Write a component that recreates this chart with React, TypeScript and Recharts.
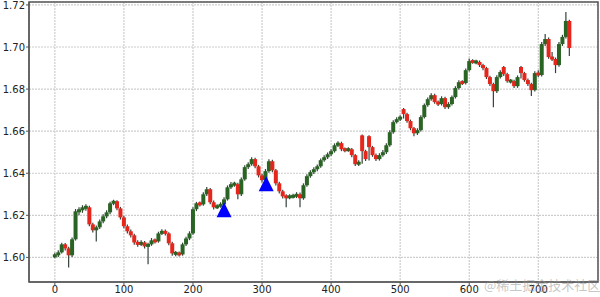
import { ComposedChart, Bar, Scatter, XAxis, YAxis, CartesianGrid, ReferenceArea } from 'recharts';

// one candle every 5 bars
const step = 5;

const opens = [
  1.6005, 1.6010, 1.6024, 1.6062, 1.6043, 1.6010, 1.6086, 1.6219, 1.6224, 1.6238,
  1.6238, 1.6157, 1.6129, 1.6143, 1.6171, 1.6195, 1.6214, 1.6257, 1.6267, 1.6233,
  1.6190, 1.6148, 1.6124, 1.6105, 1.6071, 1.6062, 1.6071, 1.6052, 1.6062, 1.6081,
  1.6076, 1.6114, 1.6124, 1.6114, 1.6067, 1.6019, 1.6019, 1.6014, 1.6062, 1.6090,
  1.6114, 1.6229, 1.6257, 1.6252, 1.6300, 1.6324, 1.6262, 1.6238, 1.6243, 1.6252,
  1.6276, 1.6333, 1.6348, 1.6348, 1.6300, 1.6371, 1.6429, 1.6443, 1.6467, 1.6433,
  1.6390, 1.6367, 1.6410, 1.6457, 1.6414, 1.6352, 1.6314, 1.6290, 1.6286, 1.6290,
  1.6290, 1.6300, 1.6281, 1.6343, 1.6386, 1.6405, 1.6419, 1.6433, 1.6462, 1.6476,
  1.6490, 1.6505, 1.6533, 1.6543, 1.6514, 1.6510, 1.6514, 1.6486, 1.6443, 1.6580,
  1.6505, 1.6576, 1.6524, 1.6486, 1.6467, 1.6486, 1.6500, 1.6533, 1.6595, 1.6643,
  1.6657, 1.6705, 1.6681, 1.6648, 1.6614, 1.6590, 1.6605, 1.6667, 1.6724, 1.6752,
  1.6771, 1.6738, 1.6729, 1.6757, 1.6714, 1.6729, 1.6762, 1.6805, 1.6833, 1.6829,
  1.6890, 1.6933, 1.6929, 1.6929, 1.6914, 1.6900, 1.6857, 1.6824, 1.6790, 1.6857,
  1.6905, 1.6871, 1.6838, 1.6838, 1.6814, 1.6905, 1.6876, 1.6843, 1.6824, 1.6795,
  1.6876, 1.6867, 1.7014, 1.7038, 1.6952, 1.6943, 1.6914, 1.7014, 1.7048, 1.7124,
];

const highs = [
  1.6022, 1.6034, 1.6070, 1.6068, 1.6050, 1.6094, 1.6230, 1.6238, 1.6248, 1.6252,
  1.6245, 1.6165, 1.6152, 1.6180, 1.6205, 1.6224, 1.6265, 1.6274, 1.6272, 1.6240,
  1.6198, 1.6156, 1.6133, 1.6112, 1.6081, 1.6082, 1.6078, 1.6070, 1.6092, 1.6090,
  1.6122, 1.6134, 1.6132, 1.6120, 1.6074, 1.6030, 1.6028, 1.6070, 1.6098, 1.6124,
  1.6238, 1.6264, 1.6266, 1.6310, 1.6335, 1.6330, 1.6270, 1.6252, 1.6262, 1.6286,
  1.6342, 1.6358, 1.6360, 1.6355, 1.6380, 1.6438, 1.6452, 1.6476, 1.6474, 1.6440,
  1.6398, 1.6420, 1.6466, 1.6464, 1.6420, 1.6360, 1.6322, 1.6300, 1.6300, 1.6302,
  1.6310, 1.6308, 1.6352, 1.6395, 1.6414, 1.6428, 1.6442, 1.6470, 1.6485, 1.6498,
  1.6514, 1.6542, 1.6552, 1.6550, 1.6522, 1.6524, 1.6520, 1.6492, 1.6462, 1.6584,
  1.6512, 1.6580, 1.6530, 1.6494, 1.6495, 1.6510, 1.6542, 1.6604, 1.6652, 1.6666,
  1.6676, 1.6710, 1.6688, 1.6655, 1.6620, 1.6614, 1.6676, 1.6732, 1.6760, 1.6780,
  1.6778, 1.6746, 1.6766, 1.6764, 1.6738, 1.6770, 1.6814, 1.6842, 1.6842, 1.6898,
  1.6945, 1.6942, 1.6940, 1.6936, 1.6920, 1.6906, 1.6864, 1.6830, 1.6866, 1.6890,
  1.6910, 1.6878, 1.6848, 1.6845, 1.6865, 1.6910, 1.6882, 1.6850, 1.6830, 1.6885,
  1.6890, 1.7024, 1.7062, 1.7045, 1.6976, 1.6950, 1.7024, 1.7058, 1.7167, 1.7130,
];

const lows = [
  1.5996, 1.6002, 1.6018, 1.6033, 1.5952, 1.6002, 1.6080, 1.6200, 1.6212, 1.6222,
  1.6148, 1.6118, 1.6076, 1.6135, 1.6162, 1.6186, 1.6205, 1.6248, 1.6224, 1.6180,
  1.6138, 1.6114, 1.6095, 1.6060, 1.6050, 1.6054, 1.6042, 1.5967, 1.6055, 1.6066,
  1.6070, 1.6106, 1.6104, 1.6058, 1.6008, 1.6005, 1.6004, 1.6008, 1.6054, 1.6082,
  1.6108, 1.6220, 1.6242, 1.6245, 1.6292, 1.6252, 1.6228, 1.6230, 1.6236, 1.6245,
  1.6270, 1.6325, 1.6336, 1.6276, 1.6292, 1.6364, 1.6420, 1.6436, 1.6424, 1.6380,
  1.6356, 1.6360, 1.6402, 1.6405, 1.6342, 1.6304, 1.6280, 1.6238, 1.6276, 1.6280,
  1.6282, 1.6238, 1.6274, 1.6336, 1.6378, 1.6396, 1.6410, 1.6426, 1.6455, 1.6468,
  1.6482, 1.6498, 1.6525, 1.6505, 1.6500, 1.6502, 1.6476, 1.6434, 1.6435, 1.6445,
  1.6458, 1.6460, 1.6478, 1.6458, 1.6460, 1.6478, 1.6492, 1.6526, 1.6588, 1.6636,
  1.6648, 1.6660, 1.6640, 1.6605, 1.6576, 1.6582, 1.6598, 1.6660, 1.6716, 1.6744,
  1.6730, 1.6720, 1.6722, 1.6705, 1.6706, 1.6722, 1.6755, 1.6798, 1.6820, 1.6822,
  1.6884, 1.6920, 1.6918, 1.6905, 1.6890, 1.6848, 1.6815, 1.6714, 1.6782, 1.6850,
  1.6862, 1.6830, 1.6826, 1.6805, 1.6806, 1.6850, 1.6835, 1.6815, 1.6767, 1.6788,
  1.6858, 1.6860, 1.7005, 1.6944, 1.6934, 1.6876, 1.6906, 1.7005, 1.7040, 1.6957,
];

const closes = [
  1.6010, 1.6024, 1.6062, 1.6043, 1.6010, 1.6086, 1.6219, 1.6224, 1.6238, 1.6238,
  1.6157, 1.6129, 1.6143, 1.6171, 1.6195, 1.6214, 1.6257, 1.6267, 1.6233, 1.6190,
  1.6148, 1.6124, 1.6105, 1.6071, 1.6062, 1.6071, 1.6052, 1.6062, 1.6081, 1.6076,
  1.6114, 1.6124, 1.6114, 1.6067, 1.6019, 1.6019, 1.6014, 1.6062, 1.6090, 1.6114,
  1.6229, 1.6257, 1.6252, 1.6300, 1.6324, 1.6262, 1.6238, 1.6243, 1.6252, 1.6276,
  1.6333, 1.6348, 1.6348, 1.6300, 1.6371, 1.6429, 1.6443, 1.6467, 1.6433, 1.6390,
  1.6367, 1.6410, 1.6457, 1.6414, 1.6352, 1.6314, 1.6290, 1.6286, 1.6290, 1.6290,
  1.6300, 1.6281, 1.6343, 1.6386, 1.6405, 1.6419, 1.6433, 1.6462, 1.6476, 1.6490,
  1.6505, 1.6533, 1.6543, 1.6514, 1.6510, 1.6514, 1.6486, 1.6443, 1.6452, 1.6505,
  1.6467, 1.6524, 1.6486, 1.6467, 1.6486, 1.6500, 1.6533, 1.6595, 1.6643, 1.6657,
  1.6667, 1.6681, 1.6648, 1.6614, 1.6590, 1.6605, 1.6667, 1.6724, 1.6752, 1.6771,
  1.6738, 1.6729, 1.6757, 1.6714, 1.6729, 1.6762, 1.6805, 1.6833, 1.6829, 1.6890,
  1.6933, 1.6929, 1.6929, 1.6914, 1.6900, 1.6857, 1.6824, 1.6790, 1.6857, 1.6881,
  1.6871, 1.6838, 1.6838, 1.6814, 1.6857, 1.6876, 1.6843, 1.6824, 1.6795, 1.6876,
  1.6867, 1.7014, 1.7038, 1.6952, 1.6943, 1.6914, 1.7014, 1.7048, 1.7124, 1.6995,
];

// buy signals (blue triangles)
const signalX = [245, 306];
const signalY = [1.6226, 1.635];

const xTicks = [0, 100, 200, 300, 400, 500, 600, 700];
const yTicks = [1.6, 1.62, 1.64, 1.66, 1.68, 1.7, 1.72];

const xDomain = [-37.45, 786.45];
const yDomain = [1.5883, 1.7214];

const UP = '#2a6424';
const DOWN = '#e4261c';
const WICK = '#34423a';

const candles = closes.map((close, k) => ({
  x: k * step,
  open: opens[k],
  high: highs[k],
  low: lows[k],
  close,
}));

const signals = signalX.map((x, k) => ({ x, y: signalY[k] }));

function Candle(props: any) {
  const { x, y, width, height, payload } = props;
  if (!payload || height == null) return null;
  const { open, close, high, low } = payload;
  const top0 = height >= 0 ? y : y + height;
  const h = Math.abs(height);
  const span = high - low || 1;
  const toY = (v: number) => top0 + ((high - v) / span) * h;
  let bodyTop = toY(Math.max(open, close));
  let bodyBot = toY(Math.min(open, close));
  // dense bars in the original read as a thick band, keep a minimum body
  if (bodyBot - bodyTop < 3) {
    const mid = (bodyTop + bodyBot) / 2;
    bodyTop = mid - 1.5;
    bodyBot = mid + 1.5;
  }
  const cx = x + width / 2;
  return (
    <g>
      <line x1={cx} x2={cx} y1={top0} y2={top0 + h} stroke={WICK} strokeWidth={1.2} />
      <rect x={cx - 2} y={bodyTop} width={4} height={bodyBot - bodyTop} fill={close >= open ? UP : DOWN} />
    </g>
  );
}

function Triangle(props: any) {
  const { cx, cy } = props;
  if (cx == null || cy == null) return null;
  return <polygon points={`${cx},${cy - 7.5} ${cx - 7.5},${cy + 7.5} ${cx + 7.5},${cy + 7.5}`} fill="#0000ff" />;
}

export default function App() {
  return (
    <div style={{ position: 'relative', width: 600, height: 297, background: '#fff' }}>
      <style>{'body{margin:0}'}</style>
      <ComposedChart
        width={600}
        height={297}
        data={candles}
        margin={{ top: 2, right: 2, bottom: 0, left: 0 }}
      >
        <CartesianGrid stroke="#cdcdcd" strokeWidth={1.2} strokeDasharray="2 1" />
        <XAxis
          dataKey="x"
          type="number"
          domain={xDomain}
          ticks={xTicks}
          allowDataOverflow
          height={15}
          tickSize={3}
          tickMargin={1}
          interval={0}
          stroke="#555"
          tick={{ fontSize: 10, fill: '#222', fontFamily: 'DejaVu Sans' }}
        />
        <YAxis
          type="number"
          domain={yDomain}
          ticks={yTicks}
          allowDataOverflow
          width={29}
          tickSize={3}
          tickMargin={1}
          interval={0}
          stroke="#555"
          tickFormatter={(v: number) => v.toFixed(2)}
          tick={{ fontSize: 10, fill: '#222', fontFamily: 'DejaVu Sans' }}
        />
        <ReferenceArea
          x1={xDomain[0]}
          x2={xDomain[1]}
          y1={yDomain[0]}
          y2={yDomain[1]}
          fill="none"
          stroke="#555"
          strokeWidth={1.5}
          ifOverflow="visible"
        />
        <Bar
          dataKey={(d: any) => [d.low, d.high]}
          barSize={4}
          shape={<Candle />}
          isAnimationActive={false}
        />
        <Scatter data={signals} dataKey="y" shape={<Triangle />} isAnimationActive={false} />
      </ComposedChart>
      <div
        style={{
          position: 'absolute',
          left: 484,
          top: 277,
          fontFamily: '"Noto Sans CJK SC", sans-serif',
          fontSize: 13,
          lineHeight: '16px',
          color: 'rgba(150,150,150,0.55)',
          whiteSpace: 'nowrap',
        }}
      >
        @稀土掘金技术社区
      </div>
    </div>
  );
}
